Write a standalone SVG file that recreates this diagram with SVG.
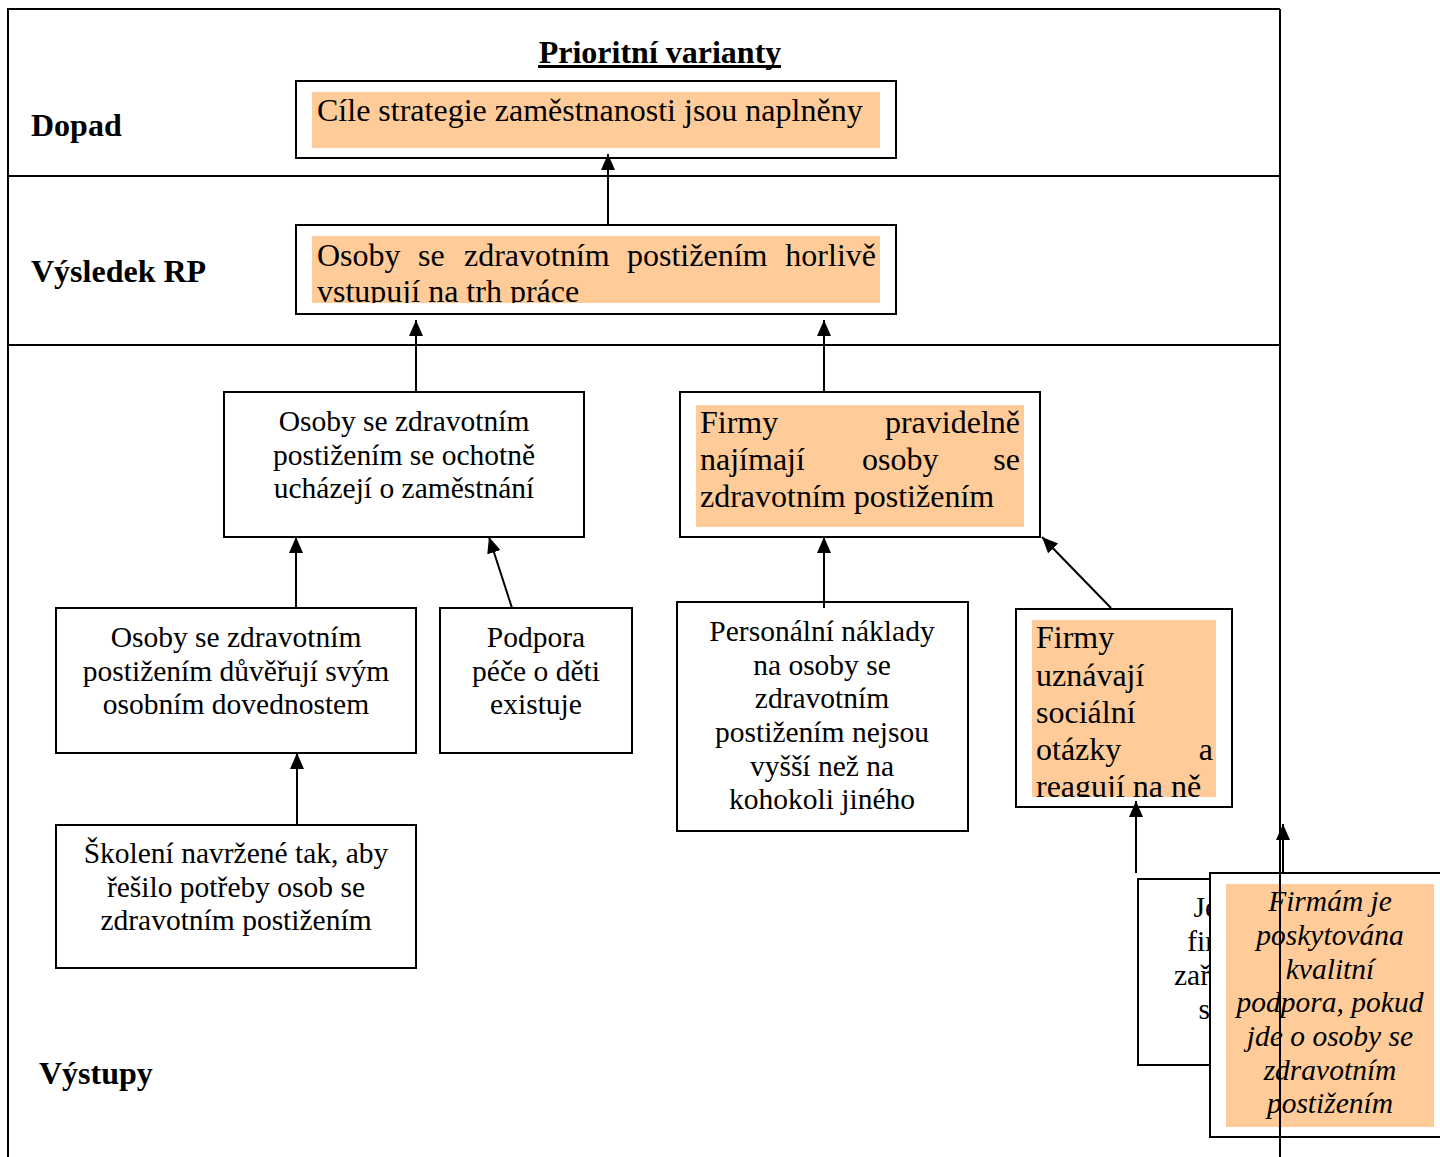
<svg xmlns="http://www.w3.org/2000/svg" width="1440" height="1157" viewBox="0 0 1440 1157">
<style>
.t{font-family:"Liberation Serif","Times New Roman",serif;fill:#000;font-size:29.5px}
.o{font-size:32px}
.c{text-anchor:middle}
.e{text-anchor:end}
.box{fill:#fff;stroke:#000;stroke-width:2}
.hl{fill:#ffcc99}
.lbl{font-family:"Liberation Serif","Times New Roman",serif;font-weight:bold;font-size:32px}
.frame{fill:none;stroke:#000;stroke-width:2}
.con{stroke:#000;stroke-width:2;fill:none;marker-end:url(#ah)}
</style>
<defs>
<marker id="ah" markerUnits="userSpaceOnUse" markerWidth="16" markerHeight="14" refX="16" refY="7" orient="auto">
<path d="M0,0 L16,7 L0,14 Z" fill="#000"/>
</marker>
<clipPath id="c1"><rect x="312" y="236" width="568" height="67"/></clipPath>
<clipPath id="c2"><rect x="1032" y="620" width="184" height="177"/></clipPath>
</defs>
<rect width="1440" height="1157" fill="#fff"/>

<g id="frame">
<path class="frame" d="M8,1157 V9 H1280 M8,176 H1280 M8,345 H1280"/>
</g>

<g id="title">
<text class="lbl" x="660" y="63" text-anchor="middle">Prioritní varianty</text>
<rect x="538" y="65" width="243" height="3" fill="#000"/>
</g>

<g id="labels">
<text class="lbl" x="31" y="136">Dopad</text>
<text class="lbl" x="31" y="282">Výsledek RP</text>
<text class="lbl" x="39" y="1084">Výstupy</text>
</g>

<g id="n-dopad">
<rect class="box" x="296" y="81" width="600" height="77"/>
<rect class="hl" x="312" y="92" width="568" height="56"/>
<text class="t o" x="317" y="121">Cíle strategie zaměstnanosti jsou naplněny</text>
</g>

<g id="n-vysledek">
<rect class="box" x="296" y="225" width="600" height="89"/>
<rect class="hl" x="312" y="236" width="568" height="67"/>
<g clip-path="url(#c1)">
<text class="t o" x="317" y="266">Osoby</text>
<text class="t o" x="418" y="266">se</text>
<text class="t o" x="464" y="266">zdravotním</text>
<text class="t o" x="627" y="266">postižením</text>
<text class="t o e" x="876" y="266">horlivě</text>
<text class="t o" x="317" y="302">vstupují na trh práce</text>
</g>
</g>

<g id="n-ochotne">
<rect class="box" x="224" y="392" width="360" height="145"/>
<text class="t c" x="404" y="431">Osoby se zdravotním</text>
<text class="t c" x="404" y="465">postižením se ochotně</text>
<text class="t c" x="404" y="498">ucházejí o zaměstnání</text>
</g>

<g id="n-firmy-najimaji">
<rect class="box" x="680" y="392" width="360" height="145"/>
<rect class="hl" x="696" y="405" width="328" height="122"/>
<text class="t o" x="700" y="433">Firmy</text>
<text class="t o e" x="1020" y="433">pravidelně</text>
<text class="t o" x="700" y="470">najímají</text>
<text class="t o" x="862" y="470">osoby</text>
<text class="t o e" x="1020" y="470">se</text>
<text class="t o" x="700" y="507">zdravotním postižením</text>
</g>

<g id="n-duveruji">
<rect class="box" x="56" y="608" width="360" height="145"/>
<text class="t c" x="236" y="647">Osoby se zdravotním</text>
<text class="t c" x="236" y="681">postižením důvěřují svým</text>
<text class="t c" x="236" y="714">osobním dovednostem</text>
</g>

<g id="n-podpora">
<rect class="box" x="440" y="608" width="192" height="145"/>
<text class="t c" x="536" y="647">Podpora</text>
<text class="t c" x="536" y="681">péče o děti</text>
<text class="t c" x="536" y="714">existuje</text>
</g>

<g id="n-skoleni">
<rect class="box" x="56" y="825" width="360" height="143"/>
<text class="t c" x="236" y="863">Školení navržené tak, aby</text>
<text class="t c" x="236" y="897">řešilo potřeby osob se</text>
<text class="t c" x="236" y="930">zdravotním postižením</text>
</g>

<g id="n-naklady">
<rect class="box" x="677" y="602" width="291" height="229"/>
<text class="t c" x="822" y="641">Personální náklady</text>
<text class="t c" x="822" y="675">na osoby se</text>
<text class="t c" x="822" y="708">zdravotním</text>
<text class="t c" x="822" y="742">postižením nejsou</text>
<text class="t c" x="822" y="776">vyšší než na</text>
<text class="t c" x="822" y="809">kohokoli jiného</text>
</g>

<g id="n-uznavaji">
<rect class="box" x="1016" y="609" width="216" height="198"/>
<rect class="hl" x="1032" y="620" width="184" height="177"/>
<g clip-path="url(#c2)">
<text class="t o" x="1036" y="648">Firmy</text>
<text class="t o" x="1036" y="686">uznávají</text>
<text class="t o" x="1036" y="723">sociální</text>
<text class="t o" x="1036" y="760">otázky</text>
<text class="t o e" x="1213" y="760">a</text>
<text class="t o" x="1036" y="797">reagují na ně</text>
</g>
</g>

<g id="n-je">
<rect class="box" x="1138" y="879" width="160" height="186"/>
<text class="t e" x="1218" y="917">Je</text>
<text class="t e" x="1215" y="951">fir</text>
<text class="t e" x="1210" y="985">zař</text>
<text class="t e" x="1210" y="1019">s</text>
</g>

<g id="n-firmam">
<rect class="box" x="1210" y="873" width="240" height="264"/>
<rect class="hl" x="1226" y="884" width="208" height="243"/>
<g font-style="italic">
<text class="t c" x="1330" y="911">Firmám je</text>
<text class="t c" x="1330" y="945">poskytována</text>
<text class="t c" x="1330" y="979">kvalitní</text>
<text class="t c" x="1330" y="1012">podpora, pokud</text>
<text class="t c" x="1330" y="1046">jde o osoby se</text>
<text class="t c" x="1330" y="1080">zdravotním</text>
<text class="t c" x="1330" y="1113">postižením</text>
</g>
</g>

<g id="connectors">
<line class="con" x1="608" y1="225" x2="608" y2="154"/>
<line class="con" x1="416" y1="392" x2="416" y2="320"/>
<line class="con" x1="824" y1="392" x2="824" y2="320"/>
<line class="con" x1="296" y1="608" x2="296" y2="537"/>
<line class="con" x1="512" y1="608" x2="489" y2="537"/>
<line class="con" x1="824" y1="608" x2="824" y2="537"/>
<line class="con" x1="1111" y1="608" x2="1042" y2="537"/>
<line class="con" x1="297" y1="825" x2="297" y2="753"/>
<line class="con" x1="1136" y1="873" x2="1136" y2="801"/>
<line class="con" x1="1283" y1="873" x2="1283" y2="824"/>
<line x1="1280" y1="9" x2="1280" y2="1157" stroke="#000" stroke-width="2"/>
</g>
</svg>
